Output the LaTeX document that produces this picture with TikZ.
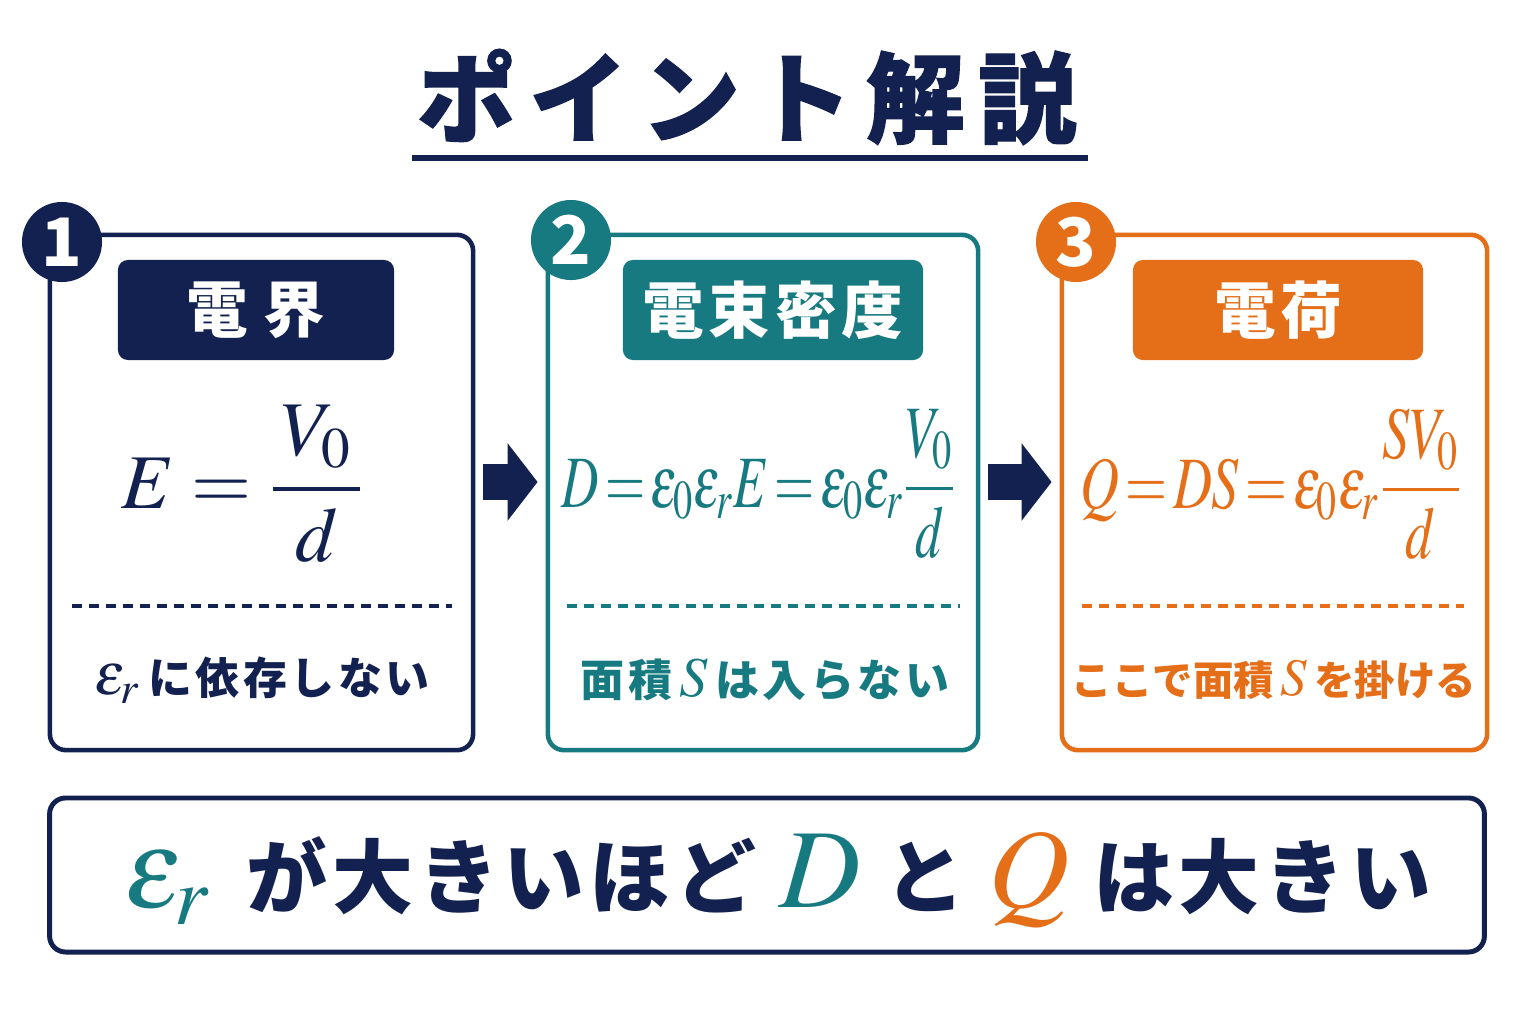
\documentclass[tikz,border=0pt]{standalone}
\usepackage{mathptmx}
\usepackage[no-math]{fontspec}
\usepackage{graphicx}
\usetikzlibrary{arrows.meta,positioning}

\newfontfamily\jpfont{Noto Sans CJK JP}
\newfontfamily\jpwide{Noto Sans CJK JP}[LetterSpace=8]
\newfontfamily\jpsum{Noto Sans CJK JP}[LetterSpace=6]
\newfontfamily\jptitle{Noto Sans CJK JP}[LetterSpace=14,BoldFeatures={FakeBold=1.2}]

\definecolor{navy}{RGB}{18,33,80}
\definecolor{myteal}{RGB}{22,122,128}
\definecolor{myorange}{RGB}{229,110,24}

\newcommand{\eqs}{\,{=}\,}

\begin{document}
\begin{tikzpicture}[x=0.01cm,y=-0.01cm,
      panel/.style={draw=#1, line width=1.3pt, rounded corners=0.16cm, minimum height=5.15cm, fill=white},
      badge/.style={circle, fill=#1, minimum size=0.8cm, inner sep=0pt, text=white,
         font=\jpfont\bfseries\fontsize{19}{19}\selectfont},
      head/.style={fill=#1, rounded corners=0.1cm, minimum height=1cm, text=white,
         font=\jpwide\bfseries\fontsize{17.5}{17.5}\selectfont},
      sep/.style={draw=#1, line width=1.1pt, dash pattern=on 0.1cm off 0.07cm},
      note/.style={text=#1, font=\jpwide\bfseries\fontsize{12.5}{12.5}\selectfont},
      formula/.style={text=#1, font=\fontsize{21}{21}\selectfont},
      bigarrow/.style={navy, line width=0.36cm, -{Triangle[length=0.3cm,width=0.76cm]},
         shorten <=0.08cm, shorten >=0.08cm}
   ]
   \fill[white] (0,0) rectangle (1536,1024);
   \useasboundingbox (0,0) rectangle (1536,1024);

   % title
   \node[text=navy, font=\jptitle\bfseries\fontsize{28}{28}\selectfont] (title) at (747,97) {ポイント解説};
   \draw[navy, line width=1.5pt] (412,158) -- (1088,158);

   % the three panels
   \node[panel=navy, minimum width=4.23cm] (box1) at (261.5,492.5) {};
   \node[panel=myteal, minimum width=4.30cm] (box2) at (763,492.5) {};
   \node[panel=myorange, minimum width=4.25cm] (box3) at (1274.5,492.5) {};

   \node[badge=navy] (num1) at (62,242) {1};
   \node[badge=myteal] (num2) at (571,240) {2};
   \node[badge=myorange] (num3) at (1076,242) {3};

   \node[head=navy, minimum width=2.76cm] (head1) at (256,310) {電\hspace{0.25em}界};
   \node[head=myteal, minimum width=3.0cm] (head2) at (773,310) {電束密度};
   \node[head=myorange, minimum width=2.9cm] (head3) at (1278,310) {電荷};

   \node[formula=navy, font=\fontsize{22}{22}\selectfont] (eq1) at (243,484)
      {$\displaystyle E = \frac{\,V_0\,}{d}$};
   \node[formula=myteal] (eq2) at (759,484)
      {\scalebox{0.7}[1]{$\displaystyle D\eqs\varepsilon_0\varepsilon_r E\eqs\varepsilon_0\varepsilon_r\frac{V_0}{d}$}};
   \node[formula=myorange] (eq3) at (1271,484)
      {\scalebox{0.73}[1]{$\displaystyle Q\eqs DS\eqs\varepsilon_0\varepsilon_r\frac{SV_0}{d}$}};

   \draw[sep=navy] (72,606) -- (452,606);
   \draw[sep=myteal] (567,606) -- (960,606);
   \draw[sep=myorange] (1082,606) -- (1464,606);

   \node[note=navy] (note1) at (262,680) {{\fontsize{17}{17}\selectfont$\varepsilon_r$}\,に依存しない};
   \node[note=myteal] (note2) at (765,680) {面積\,{\fontsize{16}{16}\selectfont$S$}\,は入らない};
   \node[note=myorange, font=\jpfont\bfseries\fontsize{11.5}{11.5}\selectfont] (note3) at (1274,680)
      {ここで面積\,{\fontsize{15}{15}\selectfont$S$}\,を掛ける};

   \draw[bigarrow] ([yshift=0.105cm]box1.east) -- ([yshift=0.105cm]box2.west);
   \draw[bigarrow] ([yshift=0.105cm]box2.east) -- ([yshift=0.105cm]box3.west);

   % summary
   \node[draw=navy, line width=1.4pt, rounded corners=0.16cm, minimum width=14.34cm,
      minimum height=1.54cm] (sumbox) at (767,875) {};
   \node[text=navy, font=\jpsum\bfseries\fontsize{23}{23}\selectfont] (sum) at (778,880)
      {{\color{myteal}\fontsize{32}{32}\selectfont$\varepsilon_r$}\hspace{0.45em}が大きいほど\
       {\color{myteal}\fontsize{32}{32}\selectfont$D$}\ と\
       {\color{myorange}\fontsize{32}{32}\selectfont$Q$}\ は大きい};
\end{tikzpicture}
\end{document}
